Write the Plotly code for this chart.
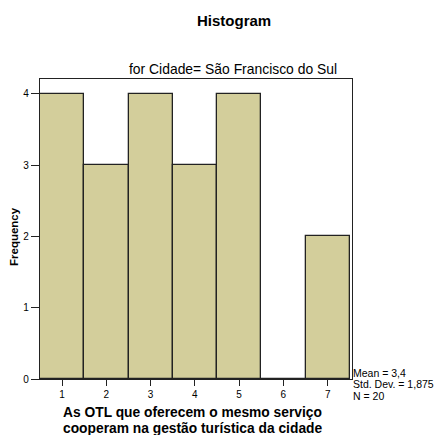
import plotly.graph_objects as go

categories = [1, 2, 3, 4, 5, 6, 7]
frequencies = [4, 3, 4, 3, 4, 0, 2]
y_ticks = [0, 1, 2, 3, 4]
stats_lines = ["Mean = 3,4", "Std. Dev. = 1,875", "N = 20"]
x_title_lines = ["As OTL que oferecem o mesmo serviço", "cooperam na gestão turística da cidade"]

W, H = 434, 435
L, R, T, B = 40, 352, 79, 379  # plot area in px


def px(x):
    return (x - L) / (R - L)


def py(y):
    return (B - y) / (B - T)


fig = go.Figure()
fig.add_trace(go.Bar(
    x=categories, y=frequencies, width=1,
    marker=dict(color="rgb(211,206,155)", line=dict(color="#222", width=1.3)),
))

font = "Liberation Sans, Arial, sans-serif"
fig.update_layout(
    width=W, height=H,
    margin=dict(l=L, r=W - R, t=T, b=H - B, autoexpand=False),
    paper_bgcolor="white", plot_bgcolor="white",
    showlegend=False,
    font=dict(family=font, size=10, color="black"),
    bargap=0,
)
fig.update_xaxes(
    range=[0.5, 7.55], tickvals=categories, ticks="outside", ticklen=6, tickwidth=1.3,
    tickcolor="#222", showline=True, linecolor="#222", linewidth=1.3, mirror=True,
    showgrid=False, zeroline=False, tickfont=dict(size=10), automargin=False,
)
fig.update_yaxes(
    range=[0, 4.21], tickvals=y_ticks, ticks="outside", ticklen=8, tickwidth=1.3,
    tickcolor="#222", showline=True, linecolor="#222", linewidth=1.3, mirror=True,
    showgrid=False, zeroline=False, tickfont=dict(size=10), automargin=False,
)
fig.add_annotation(text="<b>Histogram</b>", xref="paper", yref="paper",
                   x=px(234), y=py(21), xanchor="center", yanchor="middle",
                   showarrow=False, font=dict(size=15))
fig.add_annotation(text="<b>Frequency</b>", xref="paper", yref="paper",
                   x=px(14), y=py(237), textangle=-90, showarrow=False,
                   xanchor="center", yanchor="middle", font=dict(size=11.5))
fig.add_annotation(text="for Cidade= São Francisco do Sul", xref="paper", yref="paper",
                   x=px(233), y=py(69), yanchor="middle", xanchor="center",
                   showarrow=False, font=dict(size=13.9))
for i, line in enumerate(x_title_lines):
    fig.add_annotation(text="<b>" + line + "</b>", xref="paper", yref="paper",
                       x=px(192), y=py(412 + 16.5 * i), xanchor="center", yanchor="middle",
                       showarrow=False, font=dict(size=13.8))
for i, line in enumerate(stats_lines):
    fig.add_annotation(text=line, xref="paper", yref="paper",
                       x=px(352), y=py(372.5 + 11.5 * i), xanchor="left", yanchor="middle",
                       showarrow=False, font=dict(size=10.5), borderpad=0)
fig.write_html("out.html", config={"displayModeBar": False},
               post_script="document.body.style.margin='0';")
